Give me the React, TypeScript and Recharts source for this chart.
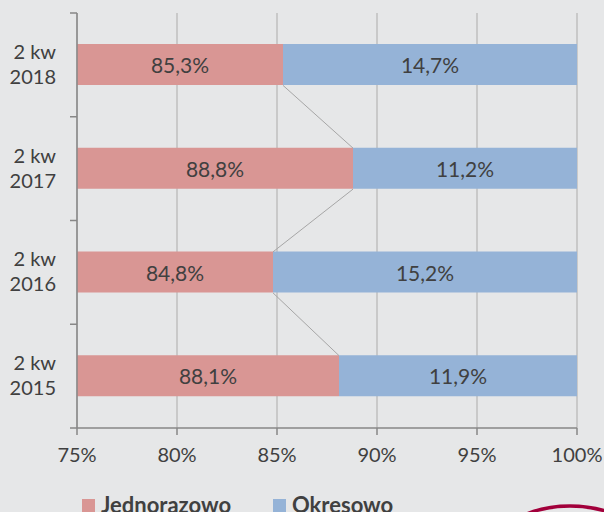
import React from 'react';
import {
  BarChart,
  Bar,
  XAxis,
  YAxis,
  CartesianGrid,
  LabelList,
  Legend,
  ReferenceLine,
} from 'recharts';

const categories = ['2 kw 2018', '2 kw 2017', '2 kw 2016', '2 kw 2015'];
const jednorazowo = [85.3, 88.8, 84.8, 88.1];
const okresowo = [14.7, 11.2, 15.2, 11.9];
const xTicks = [75, 80, 85, 90, 95, 100];
const xDomain: [number, number] = [75, 100];
const seriesNames = ['Jednorazowo', 'Okresowo'];
const seriesColors = ['#d99694', '#95b3d7'];

const data = categories.map((c, i) => ({ cat: c, j: jednorazowo[i], o: okresowo[i] }));

const W = 604;
const VIEW_H = 512;
const CHART_H = 530;
const M_TOP = 13;
const M_RIGHT = 27;
const Y_W = 77;
const X_H = 68;
const LEGEND_H = 34;
const PLOT_H = CHART_H - M_TOP - X_H - LEGEND_H;
const BAND = PLOT_H / categories.length;
const BAR = 41;
const FONT = 'Lato, "Open Sans", sans-serif';
const TEXT = '#404040';
const AXIS = '#878787';
const GRID = '#bfbfbf';
const BG = '#e6e7e8';
const CONNECTOR = '#a6a6a6';
const TICK_SIZE = 7;
const TICK_MARGIN = 14;

const fmt = (v: number) => v.toFixed(1).replace('.', ',') + '%';

function CategoryTick(props: any) {
  const { x, y, payload, index } = props;
  const s = String(payload.value);
  const k = s.lastIndexOf(' ');
  const l1 = s.slice(0, k);
  const l2 = s.slice(k + 1);
  const axisX = x + TICK_SIZE + TICK_MARGIN;
  const last = index === categories.length - 1;
  return (
    <g>
      <line x1={axisX - TICK_SIZE} x2={axisX} y1={y - BAND / 2} y2={y - BAND / 2} stroke={AXIS} strokeWidth={1.5} />
      {last && (
        <line x1={axisX - TICK_SIZE} x2={axisX} y1={y + BAND / 2} y2={y + BAND / 2} stroke={AXIS} strokeWidth={1.5} />
      )}
      <text x={x} y={y} textAnchor="end" fill={TEXT} fontSize={20} fontFamily={FONT}>
        <tspan x={x} dy={-6}>{l1}</tspan>
        <tspan x={x} dy={25}>{l2}</tspan>
      </text>
    </g>
  );
}

function BarValueLabel(p: any) {
  const vb = p.viewBox && typeof p.viewBox.x === 'number' ? p.viewBox : p;
  const x = Number(vb.x);
  const y = Number(vb.y);
  const width = Number(vb.width);
  const height = Number(vb.height);
  const value = Number(p.value);
  return (
    <text
      x={x + width / 2}
      y={y + height / 2}
      textAnchor="middle"
      dominantBaseline="central"
      fill={TEXT}
      fontSize={21}
      fontFamily={FONT}
    >
      {fmt(value)}
    </text>
  );
}

function LegendContent() {
  return (
    <div style={{ position: 'relative', height: LEGEND_H, fontFamily: FONT }}>
      {seriesNames.map((n, i) => (
        <div
          key={n}
          style={{
            position: 'absolute',
            left: 82 + i * 191,
            top: 0,
            display: 'flex',
            alignItems: 'flex-start',
            whiteSpace: 'nowrap',
          }}
        >
          <div style={{ width: 13, height: 13, background: seriesColors[i], marginTop: 3, marginRight: 6 }} />
          <div
            style={{
              fontSize: 22,
              lineHeight: '22px',
              fontWeight: 700,
              color: TEXT,
              marginTop: -2,
            }}
          >
            {n}
          </div>
        </div>
      ))}
    </div>
  );
}

export default function App() {
  return (
    <div
      style={{
        position: 'absolute',
        left: 0,
        top: 0,
        width: W,
        height: VIEW_H,
        overflow: 'hidden',
        background: BG,
      }}
    >
      <BarChart
        width={W}
        height={CHART_H}
        data={data}
        layout="vertical"
        margin={{ top: M_TOP, right: M_RIGHT, bottom: 0, left: 0 }}
        barSize={BAR}
      >
        <CartesianGrid horizontal={false} stroke={GRID} strokeWidth={1.5} />
        <XAxis
          type="number"
          domain={xDomain}
          ticks={xTicks}
          allowDataOverflow
          interval={0}
          tickFormatter={(v: number) => `${v}%`}
          height={X_H}
          tickSize={TICK_SIZE}
          tickMargin={13}
          axisLine={{ stroke: AXIS, strokeWidth: 1.5 }}
          tickLine={{ stroke: AXIS, strokeWidth: 1.5 }}
          tick={{ fill: TEXT, fontSize: 20, fontFamily: FONT }}
        />
        <YAxis
          type="category"
          dataKey="cat"
          width={Y_W}
          interval={0}
          tickLine={false}
          tickSize={TICK_SIZE}
          tickMargin={TICK_MARGIN}
          axisLine={{ stroke: AXIS, strokeWidth: 1.5 }}
          tick={(p: any) => <CategoryTick {...p} />}
        />
        <Bar dataKey="j" name={seriesNames[0]} stackId="s" fill={seriesColors[0]} isAnimationActive={false}>
          <LabelList dataKey="j" content={(p: any) => <BarValueLabel {...p} />} />
        </Bar>
        <Bar dataKey="o" name={seriesNames[1]} stackId="s" fill={seriesColors[1]} isAnimationActive={false}>
          <LabelList dataKey="o" content={(p: any) => <BarValueLabel {...p} />} />
        </Bar>
        {categories.slice(0, -1).map((c, i) => (
          <ReferenceLine
            key={c}
            segment={[
              { x: jednorazowo[i], y: c },
              { x: jednorazowo[i + 1], y: categories[i + 1] },
            ]}
            stroke={CONNECTOR}
            strokeWidth={1}
            shape={(p: any) => (
              <line
                x1={p.x1}
                y1={p.y1 + BAR / 2}
                x2={p.x2}
                y2={p.y2 - BAR / 2}
                stroke={CONNECTOR}
                strokeWidth={1}
              />
            )}
          />
        ))}
        <Legend
          verticalAlign="bottom"
          align="left"
          height={LEGEND_H}
          wrapperStyle={{ height: LEGEND_H }}
          content={() => <LegendContent />}
        />
      </BarChart>
      <svg
        width={W}
        height={VIEW_H}
        style={{ position: 'absolute', left: 0, top: 0, pointerEvents: 'none' }}
      >
        <ellipse cx={570} cy={560} rx={82} ry={54} fill="none" stroke="#a2003b" strokeWidth={3.5} />
      </svg>
    </div>
  );
}
